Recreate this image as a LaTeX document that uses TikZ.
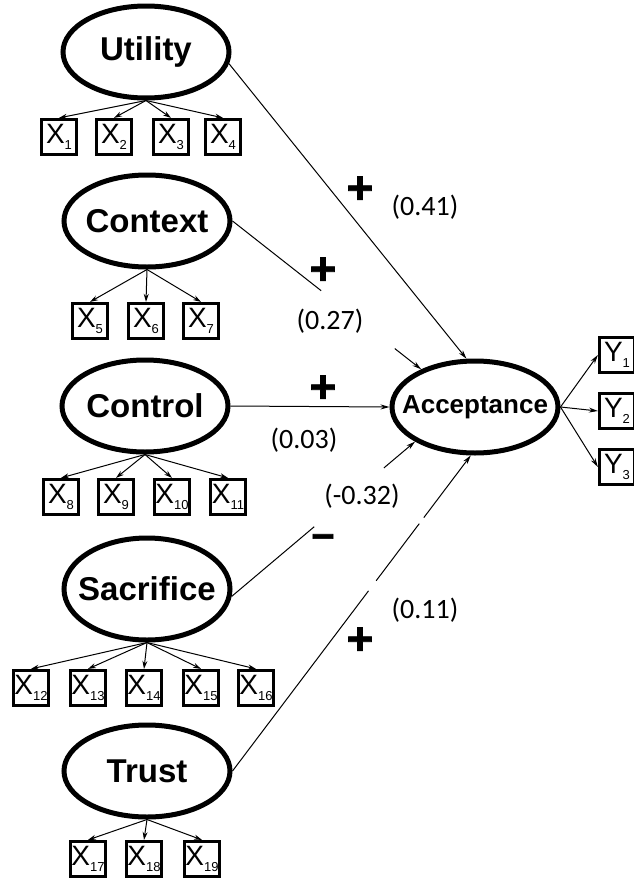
\documentclass[tikz,border=0pt]{standalone}
\usepackage{fontspec}
\setmainfont{Liberation Sans}
\newfontfamily\coeffont{Carlito}
\newfontfamily\signfont{Liberation Sans}[BoldFeatures={FakeBold=1.5}]
\usepackage{tikz}
\usetikzlibrary{shapes.geometric,arrows.meta}
\newcommand{\xsub}[2]{#1\raisebox{-6pt}{\fontsize{13}{13}\selectfont #2}}

\begin{document}
\begin{tikzpicture}[x=1pt, y=-1pt,
    latent/.style={ellipse, draw, line width=5pt, minimum width=166pt, minimum height=92pt,
        inner xsep=-16pt, inner ysep=0pt, font=\fontsize{33}{36}\selectfont\bfseries},
    indicator/.style={rectangle, draw, line width=3.2pt, minimum width=35pt, minimum height=35pt,
        inner sep=0pt, font=\fontsize{28}{30}\selectfont},
    loading/.style={line width=1pt, -{Stealth[length=8pt, width=5pt]}},
    effect/.style={line width=1pt, -{Stealth[length=9pt, width=5pt]}},
    plain/.style={line width=1pt},
    sign/.style={font=\signfont\bfseries\fontsize{46}{46}\selectfont},
    coef/.style={font=\coeffont\fontsize{28}{30}\selectfont}]
    % Frame
    \useasboundingbox (0,0) rectangle (633,881);

    % Latent constructs
    \node[latent] (util) at (146,52) {Utility};
    \node[latent] (ctx) at (147,221) {Context};
    \node[latent] (ctl) at (145,406) {Control};
    \node[latent, minimum height=102pt] (sac) at (147,589) {Sacrifice};
    \node[latent] (trust) at (147,771) {Trust};
    \node[latent, font=\fontsize{26}{28}\selectfont\bfseries] (acc) at (475,407) {Acceptance};

    % Utility items
    \node[indicator] (x1) at (59,137) {\xsub{X}{1}};
    \node[indicator] (x2) at (114,137) {\xsub{X}{2}};
    \node[indicator] (x3) at (171,137) {\xsub{X}{3}};
    \node[indicator] (x4) at (223,137) {\xsub{X}{4}};
    \draw[loading] (util.south) -- (x1.north);
    \draw[loading] (util.south) -- (x2.north);
    \draw[loading] (util.south) -- (x3.north);
    \draw[loading] (util.south) -- (x4.north);

    % Context items
    \node[indicator] (x5) at (90,321) {\xsub{X}{5}};
    \node[indicator] (x6) at (146,321) {\xsub{X}{6}};
    \node[indicator] (x7) at (201,321) {\xsub{X}{7}};
    \draw[loading] (ctx.south) -- (x5.north);
    \draw[loading] (ctx.south) -- (x6.north);
    \draw[loading] (ctx.south) -- (x7.north);

    % Control items
    \node[indicator] (x8) at (61,497) {\xsub{X}{8}};
    \node[indicator] (x9) at (116,497) {\xsub{X}{9}};
    \node[indicator] (x10) at (172,497) {\xsub{X}{10}};
    \node[indicator] (x11) at (228,497) {\xsub{X}{11}};
    \draw[loading] (ctl.south) -- (x8.north);
    \draw[loading] (ctl.south) -- (x9.north);
    \draw[loading] (ctl.south) -- (x10.north);
    \draw[loading] (ctl.south) -- (x11.north);

    % Sacrifice items
    \node[indicator] (x12) at (31,688) {\xsub{X}{12}};
    \node[indicator] (x13) at (88,688) {\xsub{X}{13}};
    \node[indicator] (x14) at (144,688) {\xsub{X}{14}};
    \node[indicator] (x15) at (201,688) {\xsub{X}{15}};
    \node[indicator] (x16) at (256,688) {\xsub{X}{16}};
    \draw[loading] (sac.south) -- (x12.north);
    \draw[loading] (sac.south) -- (x13.north);
    \draw[loading] (sac.south) -- (x14.north);
    \draw[loading] (sac.south) -- (x15.north);
    \draw[loading] (sac.south) -- (x16.north);

    % Trust items
    \node[indicator] (x17) at (88,859) {\xsub{X}{17}};
    \node[indicator] (x18) at (144,859) {\xsub{X}{18}};
    \node[indicator] (x19) at (202,859) {\xsub{X}{19}};
    \draw[loading] (trust.south) -- (x17.north);
    \draw[loading] (trust.south) -- (x18.north);
    \draw[loading] (trust.south) -- (x19.north);

    % Acceptance items
    \node[indicator] (y1) at (617,355) {\xsub{Y}{1}};
    \node[indicator] (y2) at (617,411) {\xsub{Y}{2}};
    \node[indicator] (y3) at (617,467) {\xsub{Y}{3}};
    \draw[effect] (acc.east) -- (y1.west);
    \draw[effect] (acc.east) -- (y2.west);
    \draw[effect] (acc.east) -- (y3.west);

    % Paths into Acceptance
    \draw[effect] (util.-8) -- (acc.100);
    \path (ctx.east) -- coordinate[pos=0.47] (ctxa) coordinate[pos=0.86] (ctxb) (acc.145);
    \draw[plain] (ctx.east) -- (ctxa);
    \draw[effect] (ctxb) -- (acc.145);
    \draw[effect] (ctl.east) -- (acc.west);
    \path (sac.-5) -- coordinate[pos=0.45] (saca) coordinate[pos=0.83] (sacb) (acc.210);
    \draw[plain] (sac.-5) -- (saca);
    \draw[effect] (sacb) -- (acc.210);
    \path (trust.east) -- coordinate[pos=0.571] (trua) coordinate[pos=0.603] (trub)
        coordinate[pos=0.784] (truc) coordinate[pos=0.803] (trud) (acc.265);
    \draw[plain] (trust.east) -- (trua);
    \draw[plain] (trub) -- (truc);
    \draw[effect] (trud) -- (acc.265);

    % Signs
    \node[sign] (s1) at (360,190) {+};
    \node[sign] (s2) at (323,271) {+};
    \node[sign] (s3) at (323,389) {+};
    \node[sign, font=\signfont\bfseries\fontsize{40}{40}\selectfont] (s4) at (323,542) {−};
    \node[sign] (s5) at (360,641) {+};

    % Coefficients
    \node[coef] (c1) at (425,207) {(0.41)};
    \node[coef] (c2) at (330,321) {(0.27)};
    \node[coef] (c3) at (304,440) {(0.03)};
    \node[coef] (c4) at (362,496) {(-0.32)};
    \node[coef] (c5) at (425,610) {(0.11)};
\end{tikzpicture}
\end{document}
